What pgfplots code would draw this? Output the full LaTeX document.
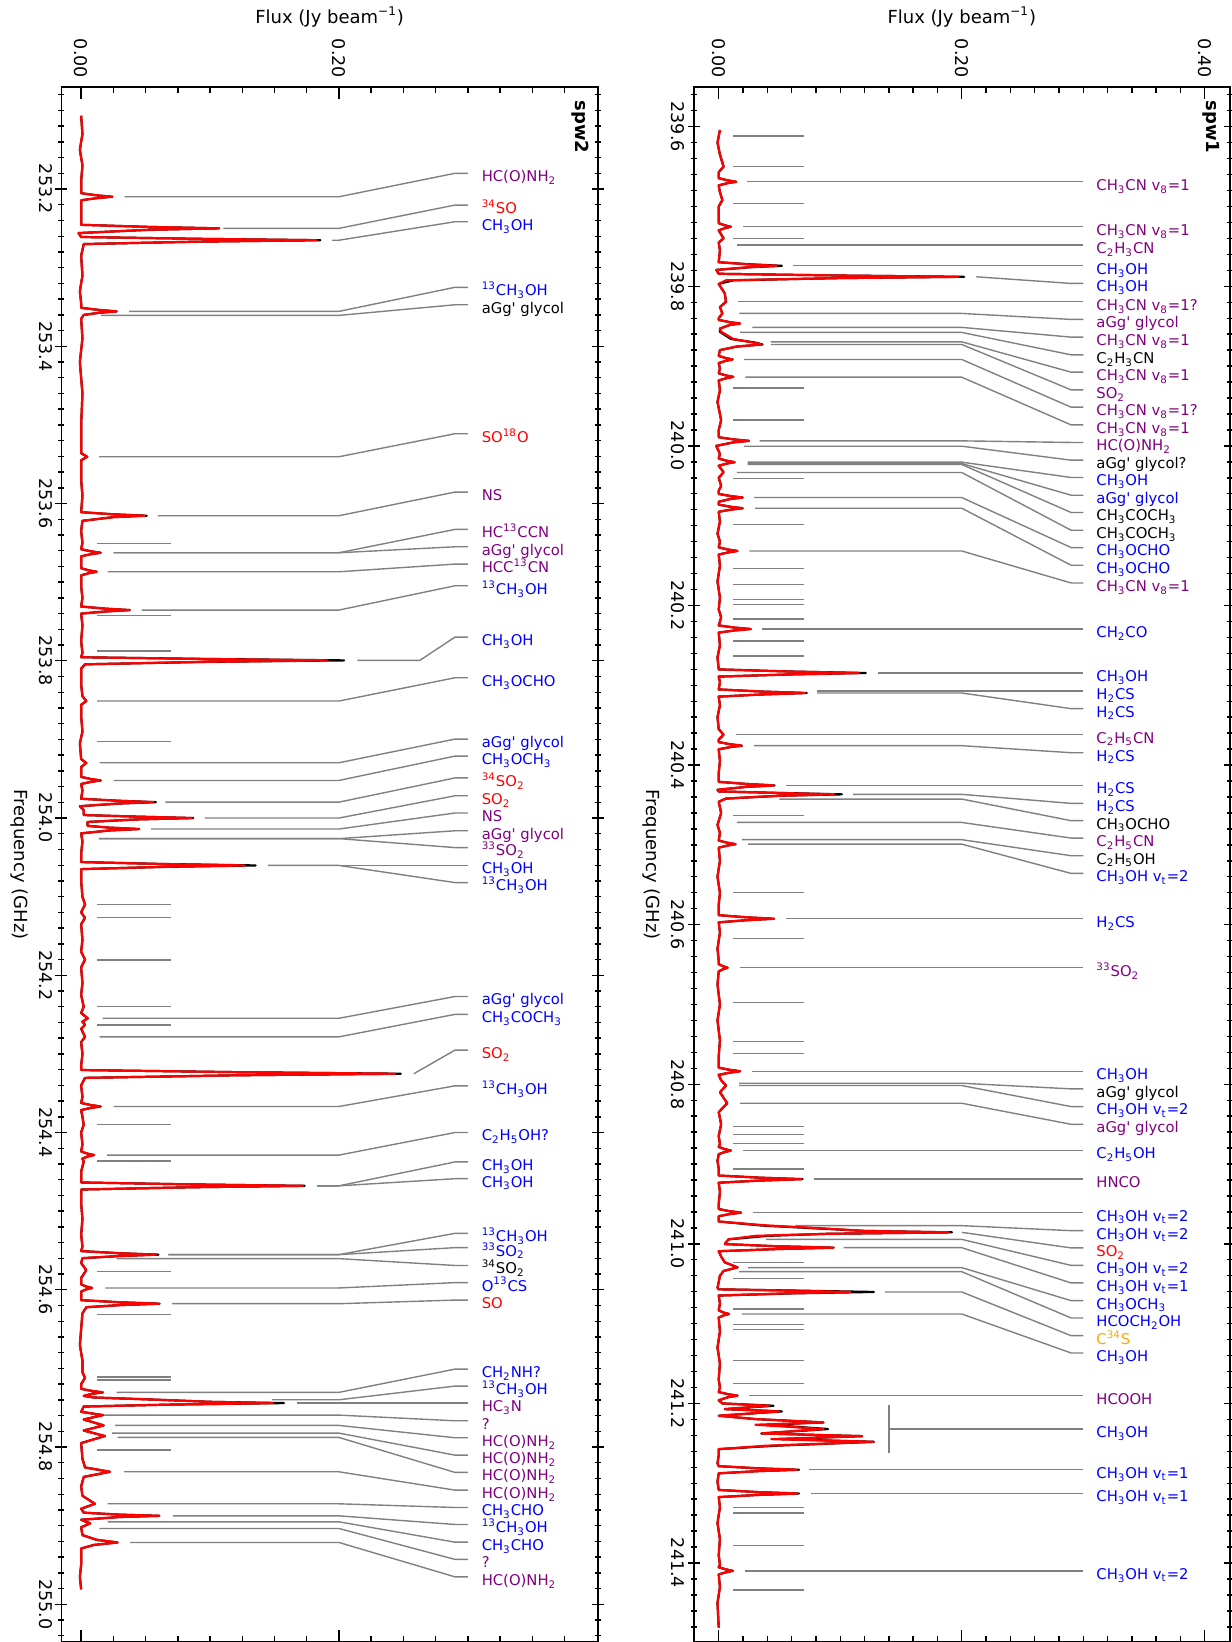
\documentclass[border=0pt]{standalone}
\usepackage{pgfplots}
\pgfplotsset{compat=1.18}
\usepackage{pgfplotstable}
\usepackage{fontspec}
\setmainfont{DejaVu Sans}[Ligatures=TeXOff]
\definecolor{mpurple}{HTML}{800080}
\definecolor{morange}{HTML}{FFA500}
\definecolor{mgray}{HTML}{808080}
\newcommand{\s}[1]{\textsubscript{#1}}
\newcommand{\su}[1]{\textsuperscript{#1}}
\newcommand{\Cn}[5]{\addplot[cl] coordinates {(#1,#2) (0.2,#2) (0.29,#3) (0.30,#3)};\node[lab,text=#5] at (axis cs:0.3105,#3) {#4};}
\newcommand{\Dn}[5]{\addplot[cl] coordinates {(#1,#2) (0.29,#3) (0.30,#3)};\node[lab,text=#5] at (axis cs:0.3105,#3) {#4};}
\newcommand{\Sh}[1]{\addplot[cl] coordinates {(0.012,#1) (0.07,#1)};}
\newcommand{\YL}[2]{\node[ytl] at (axis description cs:-0.029,#1) {#2};}

\pgfplotstableread{
nu r b
239.6041 0.001 0.001
239.6200 -0.001 -0.001
239.6350 0.001 0.001
239.6500 0.004 0.004
239.6570 0.000 0.000
239.6645 0.000 0.000
239.6672 0.0072 0.0072
239.6690 0.0144 0.0144
239.6708 0.0072 0.0072
239.6735 0.000 0.000
239.6820 0.001 0.001
239.6920 0.003 0.003
239.7000 0.000 0.000
239.7209 0.000 0.000
239.7236 0.005 0.005
239.7254 0.010 0.010
239.7272 0.005 0.005
239.7299 0.000 0.000
239.7400 0.004 0.004
239.7450 0.000 0.000
239.7550 0.001 0.001
239.7698 0.000 0.000
239.7725 0.024 0.026
239.7743 0.048 0.052
239.7761 0.024 0.026
239.7795 -0.002 -0.002
239.7843 0.000 0.000
239.7865 0.100 0.100
239.7881 0.197 0.202
239.7897 0.100 0.100
239.7925 0.006 0.012
239.7970 0.000 0.000
239.8090 0.005 0.005
239.8194 0.006 0.006
239.8260 0.001 0.001
239.8340 0.003 0.003
239.8400 0.000 0.000
239.8422 0.000 0.000
239.8449 0.009 0.009
239.8467 0.0176 0.0176
239.8485 0.009 0.009
239.8530 0.001 0.001
239.8570 0.002 0.001
239.8660 0.012 0.010
239.8705 0.028 0.030
239.8729 0.0353 0.036
239.8755 0.015 0.015
239.8800 0.001 0.001
239.8872 0.000 0.000
239.8899 0.0057 0.0057
239.8917 0.0114 0.0114
239.8935 0.0057 0.0057
239.8962 0.000 0.000
239.9030 0.001 0.001
239.9090 0.000 0.000
239.9117 0.006 0.006
239.9135 0.012 0.012
239.9153 0.006 0.006
239.9180 0.000 0.000
239.9300 0.001 0.001
239.9450 -0.001 -0.001
239.9600 0.001 0.001
239.9680 0.002 0.002
239.9800 0.000 0.000
239.9892 0.000 0.000
239.9919 0.0124 0.0124
239.9937 0.0248 0.0248
239.9955 0.0124 0.0124
240.0000 -0.002 -0.002
240.0100 0.001 0.001
240.0159 0.000 0.000
240.0186 0.0065 0.0065
240.0204 0.013 0.013
240.0222 0.0065 0.0065
240.0249 0.000 0.000
240.0330 0.004 0.004
240.0400 0.000 0.000
240.0500 0.002 0.002
240.0560 0.000 0.000
240.0602 0.000 0.000
240.0629 0.0098 0.0098
240.0647 0.0197 0.0197
240.0665 0.0098 0.0098
240.0700 0.000 0.000
240.0736 0.000 0.000
240.0763 0.0098 0.0098
240.0781 0.0197 0.0197
240.0799 0.0098 0.0098
240.0826 0.000 0.000
240.0950 0.001 0.001
240.1100 -0.001 -0.001
240.1200 0.001 0.001
240.1272 0.000 0.000
240.1299 0.0077 0.0077
240.1317 0.0154 0.0154
240.1335 0.0077 0.0077
240.1362 0.000 0.000
240.1500 0.001 0.001
240.1700 -0.001 -0.001
240.1900 0.001 0.001
240.2050 0.000 0.000
240.2150 0.002 0.002
240.2250 0.000 0.000
240.2277 0.013 0.013
240.2295 0.0263 0.0263
240.2313 0.013 0.013
240.2340 0.000 0.000
240.2500 0.001 0.001
240.2650 -0.001 -0.001
240.2801 0.000 0.000
240.2828 0.058 0.060
240.2846 0.1153 0.121
240.2864 0.058 0.060
240.2891 0.000 0.000
240.2960 0.001 0.001
240.3052 0.000 0.000
240.3079 0.036 0.036
240.3097 0.0713 0.0725
240.3115 0.036 0.036
240.3142 0.000 0.000
240.3250 0.001 0.001
240.3400 -0.001 -0.001
240.3550 0.000 0.000
240.3619 0.004 0.004
240.3680 0.000 0.000
240.3712 0.000 0.000
240.3739 0.0095 0.0095
240.3757 0.0191 0.0191
240.3775 0.0095 0.0095
240.3802 0.000 0.000
240.3950 0.001 0.001
240.4100 0.000 0.000
240.4210 0.000 0.000
240.4237 0.023 0.023
240.4255 0.0455 0.046
240.4273 0.023 0.023
240.4310 -0.001 -0.001
240.4330 0.000 0.000
240.4349 0.048 0.050
240.4367 0.0951 0.1014
240.4385 0.048 0.050
240.4420 0.006 0.006
240.4460 0.000 0.000
240.4600 0.002 0.002
240.4750 -0.001 -0.001
240.4850 0.001 0.001
240.4946 0.000 0.000
240.4973 0.007 0.007
240.4991 0.0139 0.0139
240.5009 0.007 0.007
240.5036 0.000 0.000
240.5200 0.001 0.001
240.5400 -0.001 -0.001
240.5600 0.001 0.001
240.5750 0.000 0.000
240.5881 0.000 0.000
240.5908 0.023 0.023
240.5926 0.0455 0.0455
240.5944 0.023 0.023
240.5971 0.000 0.000
240.6100 0.001 0.001
240.6300 -0.001 -0.001
240.6450 0.000 0.000
240.6495 0.000 0.000
240.6522 0.0037 0.0037
240.6540 0.0073 0.0073
240.6558 0.0037 0.0037
240.6585 0.000 0.000
240.6750 -0.001 -0.001
240.7000 0.001 0.001
240.7200 -0.001 -0.001
240.7450 0.001 0.001
240.7650 0.000 0.000
240.7792 0.000 0.000
240.7819 0.009 0.009
240.7837 0.0176 0.0176
240.7855 0.009 0.009
240.7882 0.000 0.000
240.7950 0.002 0.002
240.8016 0.006 0.006
240.8100 0.001 0.001
240.8238 0.007 0.007
240.8350 0.000 0.000
240.8500 0.002 0.002
240.8650 0.000 0.000
240.8750 0.001 0.001
240.8786 0.000 0.000
240.8813 0.005 0.005
240.8831 0.010 0.010
240.8849 0.005 0.005
240.8876 0.000 0.000
240.8960 -0.001 -0.001
240.9060 0.000 0.000
240.9144 0.000 0.000
240.9171 0.034 0.034
240.9189 0.068 0.069
240.9207 0.034 0.034
240.9234 0.000 0.000
240.9350 0.001 0.001
240.9500 0.000 0.000
240.9564 0.000 0.000
240.9591 0.009 0.009
240.9609 0.0184 0.0184
240.9627 0.009 0.009
240.9654 0.000 0.000
240.9720 0.000 0.000
240.9770 0.040 0.035
240.9810 0.090 0.085
240.9838 0.120 0.120
240.9856 0.189 0.192
240.9874 0.090 0.090
240.9900 0.030 0.040
240.9944 0.008 0.008
241.0003 0.005 0.005
241.0030 0.047 0.047
241.0048 0.0946 0.0946
241.0066 0.047 0.047
241.0093 0.000 0.000
241.0160 0.002 0.002
241.0232 0.005 0.005
241.0295 0.0155 0.0155
241.0340 0.004 0.004
241.0400 0.001 0.001
241.0480 0.000 0.000
241.0550 -0.001 -0.001
241.0570 0.000 0.000
241.0585 0.055 0.060
241.0603 0.1085 0.1277
241.0621 0.055 0.060
241.0648 0.000 0.000
241.0750 0.001 0.001
241.0834 0.000 0.000
241.0861 0.004 0.004
241.0879 0.0084 0.0084
241.0897 0.004 0.004
241.0924 0.000 0.000
241.1100 0.001 0.001
241.1300 -0.001 -0.001
241.1500 0.001 0.001
241.1700 0.000 0.000
241.1800 0.001 0.001
241.1858 0.000 0.000
241.1885 0.008 0.008
241.1903 0.0155 0.0155
241.1921 0.008 0.008
241.1960 0.000 0.000
241.2000 0.003 0.003
241.2029 0.0414 0.045
241.2071 0.005 0.005
241.2100 0.0498 0.052
241.2154 0.000 0.000
241.2196 0.030 0.030
241.2238 0.0862 0.086
241.2267 0.0303 0.040
241.2321 0.0862 0.090
241.2376 0.035 0.035
241.2410 0.118 0.118
241.2447 0.0432 0.050
241.2481 0.1277 0.1277
241.2531 0.038 0.045
241.2573 0.000 0.000
241.2650 0.000 0.000
241.2750 -0.001 -0.001
241.2786 0.000 0.000
241.2813 0.032 0.032
241.2831 0.0647 0.066
241.2849 0.032 0.032
241.2876 0.000 0.000
241.2980 -0.001 -0.001
241.3084 0.000 0.000
241.3111 0.032 0.032
241.3129 0.065 0.066
241.3147 0.032 0.032
241.3174 0.000 0.000
241.3300 0.001 0.001
241.3500 -0.001 -0.001
241.3700 0.001 0.001
241.3900 0.000 0.000
241.4020 0.001 0.001
241.4053 0.000 0.000
241.4080 0.006 0.006
241.4098 0.0116 0.0116
241.4116 0.006 0.006
241.4143 0.000 0.000
241.4300 0.001 0.001
241.4500 -0.001 -0.001
241.4809 0.000 0.000
}\specR

\pgfplotstableread{
nu r b
253.1068 0.000 0.000
253.1300 0.001 0.001
253.1500 -0.001 -0.001
253.1700 0.001 0.001
253.1900 0.000 0.000
253.2053 0.000 0.000
253.2080 0.012 0.012
253.2098 0.0242 0.0242
253.2116 0.012 0.012
253.2143 0.000 0.000
253.2300 0.000 0.000
253.2455 0.000 0.000
253.2482 0.053 0.053
253.2500 0.107 0.107
253.2518 0.053 0.053
253.2560 -0.002 -0.002
253.2610 0.000 0.000
253.2633 0.091 0.091
253.2651 0.1828 0.1856
253.2669 0.091 0.091
253.2700 0.002 0.002
253.2850 0.000 0.000
253.3100 0.001 0.001
253.3300 -0.001 -0.001
253.3450 0.000 0.000
253.3511 0.000 0.000
253.3538 0.014 0.014
253.3556 0.0275 0.0275
253.3574 0.014 0.014
253.3601 0.002 0.002
253.3650 0.000 0.000
253.3900 0.001 0.001
253.4200 -0.001 -0.001
253.4600 0.001 0.001
253.5000 0.000 0.000
253.5360 0.000 0.000
253.5405 0.0047 0.0047
253.5450 0.000 0.000
253.5700 0.000 0.000
253.5900 0.001 0.001
253.6110 0.000 0.000
253.6137 0.025 0.025
253.6155 0.0494 0.0509
253.6173 0.025 0.025
253.6220 0.001 0.001
253.6350 0.000 0.000
253.6500 0.001 0.001
253.6581 0.000 0.000
253.6608 0.0076 0.0076
253.6626 0.0152 0.0152
253.6644 0.0076 0.0076
253.6671 0.000 0.000
253.6823 0.000 0.000
253.6850 0.006 0.006
253.6868 0.012 0.012
253.6886 0.006 0.006
253.6913 0.000 0.000
253.7050 0.000 0.000
253.7200 0.001 0.001
253.7310 0.000 0.000
253.7337 0.019 0.019
253.7355 0.0377 0.0377
253.7373 0.019 0.019
253.7400 0.000 0.000
253.7550 0.001 0.001
253.7750 0.000 0.000
253.7900 0.001 0.001
253.7955 0.000 0.000
253.7977 0.095 0.100
253.7995 0.191 0.204
253.8013 0.095 0.100
253.8045 0.003 0.003
253.8100 0.000 0.000
253.8300 0.000 0.000
253.8450 0.001 0.001
253.8512 0.004 0.004
253.8560 0.000 0.000
253.8700 0.000 0.000
253.8900 0.001 0.001
253.9050 -0.001 -0.001
253.9250 0.000 0.000
253.9300 0.004 0.004
253.9350 0.000 0.000
253.9477 0.000 0.000
253.9504 0.0076 0.0076
253.9522 0.0152 0.0152
253.9540 0.0076 0.0076
253.9567 0.000 0.000
253.9650 0.001 0.001
253.9755 0.000 0.000
253.9780 0.028 0.029
253.9798 0.0561 0.058
253.9816 0.028 0.029
253.9850 -0.001 -0.001
253.9900 0.002 0.002
253.9962 0.002 0.002
253.9982 0.043 0.043
254.0000 0.0859 0.087
254.0018 0.043 0.043
254.0050 0.005 0.005
254.0100 0.005 0.005
254.0122 0.022 0.022
254.0140 0.045 0.045
254.0158 0.022 0.022
254.0195 0.000 0.000
254.0300 0.001 0.001
254.0450 0.000 0.000
254.0560 0.000 0.000
254.0585 0.063 0.065
254.0603 0.1267 0.1354
254.0621 0.063 0.065
254.0650 0.000 0.000
254.0800 0.000 0.000
254.1000 0.001 0.001
254.1100 0.003 0.003
254.1200 0.000 0.000
254.1270 0.003 0.003
254.1350 0.000 0.000
254.1550 0.001 0.001
254.1700 0.000 0.000
254.1800 0.003 0.003
254.1900 0.000 0.000
254.2100 0.001 0.001
254.2250 0.000 0.000
254.2400 0.002 0.002
254.2480 0.000 0.000
254.2547 0.0051 0.0051
254.2590 0.001 0.001
254.2630 0.003 0.003
254.2680 0.000 0.000
254.2783 0.003 0.003
254.2850 0.000 0.000
254.3000 0.001 0.001
254.3150 0.000 0.000
254.3205 0.000 0.000
254.3232 0.120 0.120
254.3252 0.2434 0.2479
254.3272 0.120 0.120
254.3305 0.003 0.003
254.3400 0.000 0.000
254.3550 0.001 0.001
254.3624 0.000 0.000
254.3651 0.0076 0.0076
254.3669 0.0152 0.0152
254.3687 0.0076 0.0076
254.3714 0.000 0.000
254.3800 0.001 0.001
254.3900 0.002 0.002
254.4000 0.000 0.000
254.4150 0.001 0.001
254.4242 0.000 0.000
254.4269 0.005 0.005
254.4287 0.010 0.010
254.4305 0.005 0.005
254.4332 0.001 0.001
254.4370 0.002 0.002
254.4500 0.000 0.000
254.4635 0.000 0.000
254.4660 0.086 0.086
254.4678 0.172 0.1734
254.4696 0.086 0.086
254.4725 0.000 0.000
254.4900 0.000 0.000
254.5100 0.001 0.001
254.5300 0.000 0.000
254.5450 0.001 0.001
254.5508 0.000 0.000
254.5535 0.029 0.030
254.5553 0.0579 0.060
254.5571 0.029 0.030
254.5598 0.001 0.001
254.5660 0.000 0.000
254.5750 0.004 0.004
254.5850 0.000 0.000
254.5932 0.000 0.000
254.5959 0.004 0.004
254.5977 0.0085 0.0085
254.5995 0.004 0.004
254.6022 0.000 0.000
254.6090 0.000 0.000
254.6132 0.000 0.000
254.6159 0.030 0.030
254.6177 0.0608 0.0608
254.6195 0.030 0.030
254.6222 0.004 0.004
254.6300 0.001 0.001
254.6500 0.000 0.000
254.6700 -0.001 -0.001
254.6900 0.001 0.001
254.7050 0.001 0.001
254.7120 0.003 0.003
254.7200 0.000 0.000
254.7260 0.000 0.000
254.7287 0.0085 0.0085
254.7305 0.0169 0.0169
254.7323 0.0085 0.0085
254.7350 0.002 0.002
254.7370 0.010 0.010
254.7399 0.060 0.060
254.7425 0.100 0.100
254.7441 0.1487 0.1573
254.7460 0.070 0.070
254.7485 0.002 0.002
254.7552 0.000 0.000
254.7594 0.0168 0.0168
254.7650 0.002 0.002
254.7725 0.0175 0.0175
254.7790 0.002 0.002
254.7860 0.0184 0.0184
254.7950 0.000 0.000
254.8150 0.001 0.001
254.8260 0.003 0.003
254.8315 0.0224 0.0224
254.8380 0.002 0.002
254.8500 0.000 0.000
254.8620 0.001 0.001
254.8722 0.0107 0.0107
254.8785 0.000 0.000
254.8835 0.002 0.002
254.8860 0.030 0.030
254.8875 0.0607 0.0607
254.8890 0.030 0.030
254.8925 0.000 0.000
254.8972 0.007 0.007
254.9020 0.000 0.000
254.9120 0.001 0.001
254.9180 0.012 0.012
254.9214 0.0282 0.0282
254.9245 0.010 0.010
254.9290 0.000 0.000
254.9500 0.000 0.000
254.9650 -0.001 -0.001
254.9810 0.000 0.000
}\specL

\tikzset{
  cl/.style={mgray, line width=0.7pt, line join=round},
  lab/.style={anchor=base west, inner sep=0pt, yshift=-4.2pt, font=\fontsize{7.4}{9}\selectfont},
  axlab/.style={inner sep=0pt, anchor=center, font=\fontsize{9}{11}\selectfont},
  ytl/.style={inner sep=0pt, anchor=center, rotate=-90, font=\fontsize{8.75}{10}\selectfont},
  spw/.style={rotate=-90, anchor=north west, inner sep=0pt, font=\fontsize{9}{11}\selectfont\bfseries},
}
\pgfplotsset{
  base/.style={
    scale only axis, y dir=reverse,
    axis line style={line width=0.8pt},
    xtick align=inside, ytick align=center,
    major tick length=6pt, minor tick length=3pt,
    tick style={line width=0.7pt, black},
    xticklabel pos=right,
    yticklabels={},
    tick label style={font=\fontsize{8.75}{10}\selectfont},
    xticklabel style={yshift=4.5pt, rotate=-90, anchor=east, inner sep=0pt},
  }
}

\begin{document}
\begin{tikzpicture}
% ---------------- spw2 (left) ----------------
\begin{axis}[base, at={(30.65pt,0pt)}, anchor=south west, width=268.3pt, height=777.35pt,
  xmin=-0.0154, xmax=0.4009, ymin=253.0706, ymax=255.048,
  xtick={0,0.2}, xticklabels={0.00,0.20}, minor xtick={0.025,0.05,...,0.375},
  ytick={253.2,253.4,253.6,253.8,254.0,254.2,254.4,254.6,254.8,255.0},
  minor ytick={253.08,253.10,...,255.04},
  extra description/.code={
    \node[axlab] at (axis description cs:0.5,1.0454) {Flux (Jy beam\su{−1})};
    \node[axlab,rotate=-90] at (axis description cs:-0.0775,0.5) {Frequency (GHz)};
    \node[spw] at (axis description cs:0.9838,0.9918) {spw2};
    \YL{0.93456}{253.2}\YL{0.83342}{253.4}\YL{0.73227}{253.6}\YL{0.63113}{253.8}
    \YL{0.52998}{254.0}\YL{0.42884}{254.2}\YL{0.32770}{254.4}\YL{0.22656}{254.6}
    \YL{0.12542}{254.8}\YL{0.02427}{255.0}
  }]
\Sh{253.6512}\Sh{253.7427}\Sh{253.7876}\Sh{253.9030}\Sh{254.1098}\Sh{254.1266}
\Sh{254.1807}\Sh{254.2397}\Sh{254.2633}\Sh{254.3897}\Sh{254.4364}\Sh{254.5764}
\Sh{254.6313}\Sh{254.7107}\Sh{254.7149}\Sh{254.8039}
\Cn{0.0337}{253.2098}{253.1800}{HC(O)NH\s2}{mpurple}
\Cn{0.1104}{253.2500}{253.2204}{\su{34}SO}{red}
\Cn{0.1948}{253.2651}{253.2416}{CH\s3OH}{blue}
\Cn{0.0372}{253.3556}{253.3250}{\su{13}CH\s3OH}{blue}
\Cn{0.0154}{253.3607}{253.3472}{aGg' glycol}{black}
\Cn{0.0137}{253.5405}{253.5112}{SO\su{18}O}{red}
\Cn{0.0596}{253.6155}{253.5854}{NS}{mpurple}
\Cn{0.0251}{253.6626}{253.6329}{HC\su{13}CCN}{mpurple}
\Cn{0.0251}{253.6626}{253.6550}{aGg' glycol}{mpurple}
\Cn{0.0205}{253.6868}{253.6770}{HCC\su{13}CN}{mpurple}
\Cn{0.0472}{253.7355}{253.7046}{\su{13}CH\s3OH}{blue}
\addplot[cl] coordinates {(0.2143,253.7995) (0.2627,253.7995) (0.29,253.7699) (0.30,253.7699)};
\node[lab,text=blue] at (axis cs:0.3105,253.7699) {CH\s3OH};
\Cn{0.0123}{253.8512}{253.8216}{CH\s3OCHO}{blue}
\Cn{0.0144}{253.9297}{253.8996}{aGg' glycol}{blue}
\Cn{0.0251}{253.9522}{253.9212}{CH\s3OCH\s3}{blue}
\Cn{0.0654}{253.9798}{253.9490}{\su{34}SO\s2}{red}
\Cn{0.0957}{254.0000}{253.9717}{SO\s2}{red}
\Cn{0.0543}{254.0140}{253.9936}{NS}{mpurple}
\Cn{0.0138}{254.0262}{254.0162}{aGg' glycol}{mpurple}
\Cn{0.0138}{254.0262}{254.0376}{\su{33}SO\s2}{mpurple}
\Cn{0.1448}{254.0603}{254.0603}{CH\s3OH}{blue}
\Cn{0.1448}{254.0603}{254.0821}{\su{13}CH\s3OH}{blue}
\Cn{0.0166}{254.2547}{254.2270}{aGg' glycol}{blue}
\Cn{0.0144}{254.2783}{254.2497}{CH\s3COCH\s3}{blue}
\Dn{0.2581}{254.3252}{254.2952}{SO\s2}{red}
\Cn{0.0251}{254.3669}{254.3406}{\su{13}CH\s3OH}{blue}
\Cn{0.0202}{254.4287}{254.4000}{C\s2H\s5OH?}{blue}
\Cn{0.1831}{254.4678}{254.4374}{CH\s3OH}{blue}
\Cn{0.1831}{254.4678}{254.4587}{CH\s3OH}{blue}
\Cn{0.0676}{254.5553}{254.5282}{\su{13}CH\s3OH}{blue}
\Cn{0.0676}{254.5553}{254.5464}{\su{33}SO\s2}{blue}
\Cn{0.0275}{254.5604}{254.5691}{\su{34}SO\s2}{black}
\Cn{0.0187}{254.5977}{254.5909}{O\su{13}CS}{blue}
\Cn{0.0706}{254.6177}{254.6131}{SO}{red}
\Cn{0.0276}{254.7305}{254.7009}{CH\s2NH?}{blue}
\Cn{0.148}{254.7399}{254.7225}{\su{13}CH\s3OH}{blue}
\Cn{0.1672}{254.7441}{254.7441}{HC\s3N}{mpurple}
\Cn{0.0168}{254.7594}{254.7666}{?}{mpurple}
\Cn{0.0263}{254.7725}{254.7882}{HC(O)NH\s2}{mpurple}
\Cn{0.0239}{254.7823}{254.8103}{HC(O)NH\s2}{mpurple}
\Cn{0.0282}{254.7878}{254.8323}{HC(O)NH\s2}{mpurple}
\Cn{0.0332}{254.8315}{254.8548}{HC(O)NH\s2}{mpurple}
\Cn{0.0205}{254.8722}{254.8769}{CH\s3CHO}{blue}
\Cn{0.0711}{254.8875}{254.8985}{\su{13}CH\s3OH}{blue}
\Cn{0.0205}{254.8951}{254.9210}{CH\s3CHO}{blue}
\Cn{0.0141}{254.9036}{254.9429}{?}{mpurple}
\Cn{0.0379}{254.9214}{254.9651}{HC(O)NH\s2}{mpurple}
\addplot[black, line width=1.1pt, line join=round] table[x=b, y=nu] {\specL};
\addplot[red, line width=1.1pt, line join=round] table[x=r, y=nu] {\specL};
\end{axis}

% ---------------- spw1 (right) ----------------
\begin{axis}[base, at={(346.9pt,0pt)}, anchor=south west, width=268pt, height=777.35pt,
  xmin=-0.0205, xmax=0.4206, ymin=239.5506, ymax=241.499,
  xtick={0,0.2,0.4}, xticklabels={0.00,0.20,0.40}, minor xtick={0.02,0.04,...,0.38},
  ytick={239.6,239.8,240.0,240.2,240.4,240.6,240.8,241.0,241.2,241.4},
  minor ytick={239.56,239.58,...,241.48},
  extra description/.code={
    \node[axlab] at (axis description cs:0.5,1.0454) {Flux (Jy beam\su{−1})};
    \node[axlab,rotate=-90] at (axis description cs:-0.079,0.5) {Frequency (GHz)};
    \node[spw] at (axis description cs:0.9817,0.9918) {spw1};
    \YL{0.97465}{239.6}\YL{0.87200}{239.8}\YL{0.76935}{240.0}\YL{0.66670}{240.2}
    \YL{0.56405}{240.4}\YL{0.46140}{240.6}\YL{0.35876}{240.8}\YL{0.25611}{241.0}
    \YL{0.15346}{241.2}\YL{0.05081}{241.4}
  }]
\Sh{239.6117}\Sh{239.6502}\Sh{239.6961}\Sh{239.7402}\Sh{239.9273}\Sh{239.9678}
\Sh{240.0409}\Sh{240.0986}\Sh{240.1534}\Sh{240.1738}\Sh{240.1926}\Sh{240.1989}
\Sh{240.2169}\Sh{240.2445}\Sh{240.2633}\Sh{240.4634}\Sh{240.5596}\Sh{240.6173}
\Sh{240.6972}\Sh{240.7465}\Sh{240.7611}\Sh{240.8530}\Sh{240.8627}\Sh{240.8740}
\Sh{240.9061}\Sh{241.0232}\Sh{241.0433}\Sh{241.0816}\Sh{241.1013}\Sh{241.1076}
\Sh{241.1465}\Sh{241.1753}\Sh{241.3304}\Sh{241.3374}\Sh{241.3784}\Sh{241.4340}
\Cn{0.0232}{239.6690}{239.6690}{CH\s3CN v\s8=1}{mpurple}
\Cn{0.020}{239.7254}{239.7254}{CH\s3CN v\s8=1}{mpurple}
\Cn{0.0149}{239.7480}{239.7480}{C\s2H\s3CN}{mpurple}
\Cn{0.0613}{239.7743}{239.7743}{CH\s3OH}{blue}
\Dn{0.212}{239.7881}{239.7964}{CH\s3OH}{blue}
\Cn{0.016}{239.8194}{239.8194}{CH\s3CN v\s8=1?}{mpurple}
\Cn{0.017}{239.8340}{239.8415}{aGg' glycol}{mpurple}
\Cn{0.0276}{239.8515}{239.8637}{CH\s3CN v\s8=1}{mpurple}
\Cn{0.0177}{239.8578}{239.8859}{C\s2H\s3CN}{black}
\Cn{0.043}{239.8696}{239.9076}{CH\s3CN v\s8=1}{mpurple}
\Cn{0.043}{239.8729}{239.9298}{SO\s2}{mpurple}
\Cn{0.0207}{239.8917}{239.9515}{CH\s3CN v\s8=1?}{mpurple}
\Cn{0.022}{239.9139}{239.9737}{CH\s3CN v\s8=1}{mpurple}
\Cn{0.0337}{239.9937}{239.9957}{HC(O)NH\s2}{mpurple}
\Cn{0.0207}{240.0004}{240.0179}{aGg' glycol?}{black}
\Cn{0.0238}{240.0204}{240.0396}{CH\s3OH}{blue}
\Cn{0.0238}{240.0221}{240.0618}{aGg' glycol}{blue}
\Cn{0.0238}{240.0233}{240.0835}{CH\s3COCH\s3}{black}
\Cn{0.015}{240.0334}{240.1057}{CH\s3COCH\s3}{black}
\Cn{0.029}{240.0647}{240.1274}{CH\s3OCHO}{blue}
\Cn{0.0298}{240.0781}{240.1496}{CH\s3OCHO}{blue}
\Cn{0.0253}{240.1317}{240.1718}{CH\s3CN v\s8=1}{mpurple}
\Cn{0.036}{240.2295}{240.2295}{CH\s2CO}{blue}
\Cn{0.131}{240.2846}{240.2846}{CH\s3OH}{blue}
\Cn{0.081}{240.3072}{240.3072}{H\s2CS}{blue}
\Cn{0.081}{240.3097}{240.3293}{H\s2CS}{blue}
\Cn{0.0144}{240.3619}{240.3619}{C\s2H\s5CN}{mpurple}
\Cn{0.029}{240.3757}{240.3845}{H\s2CS}{blue}
\Cn{0.0555}{240.4255}{240.4255}{H\s2CS}{blue}
\Cn{0.1106}{240.4367}{240.4480}{H\s2CS}{blue}
\Cn{0.050}{240.4426}{240.4697}{CH\s3OCHO}{black}
\Cn{0.015}{240.4719}{240.4915}{C\s2H\s5CN}{mpurple}
\Cn{0.019}{240.4935}{240.5136}{C\s2H\s5OH}{black}
\Cn{0.0243}{240.4991}{240.5358}{CH\s3OH v\s{t}=2}{blue}
\Cn{0.0555}{240.5926}{240.5926}{H\s2CS}{blue}
\Cn{0.0177}{240.6540}{240.6540}{\su{33}SO\s2}{mpurple}
\Cn{0.0276}{240.7837}{240.7837}{CH\s3OH}{blue}
\Cn{0.0168}{240.7987}{240.8058}{aGg' glycol}{black}
\Cn{0.0168}{240.8016}{240.8280}{CH\s3OH v\s{t}=2}{blue}
\Cn{0.0177}{240.8238}{240.8502}{aGg' glycol}{mpurple}
\Cn{0.0203}{240.8831}{240.8831}{C\s2H\s5OH}{blue}
\Cn{0.078}{240.9189}{240.9189}{HNCO}{mpurple}
\Cn{0.0284}{240.9609}{240.9609}{CH\s3OH v\s{t}=2}{blue}
\Cn{0.063}{240.9772}{240.9835}{CH\s3OH v\s{t}=2}{blue}
\Cn{0.1999}{240.9856}{241.0051}{SO\s2}{red}
\Cn{0.039}{240.9944}{241.0270}{CH\s3OH v\s{t}=2}{blue}
\Cn{0.1027}{241.0048}{241.0490}{CH\s3OH v\s{t}=1}{blue}
\Cn{0.0243}{241.0298}{241.0712}{CH\s3OCH\s3}{blue}
\Cn{0.0167}{241.0349}{241.0929}{HCOCH\s2OH}{blue}
\Cn{0.137}{241.0603}{241.1151}{C\su{34}S}{morange}
\Cn{0.019}{241.0879}{241.1368}{CH\s3OH}{blue}
\Cn{0.025}{241.1903}{241.1903}{HCOOH}{mpurple}
\addplot[cl] coordinates {(0.140,241.2016) (0.140,241.2627)};
\addplot[cl] coordinates {(0.140,241.2321) (0.30,241.2321)};
\node[lab,text=blue] at (axis cs:0.3105,241.2321) {CH\s3OH};
\Cn{0.0747}{241.2831}{241.2831}{CH\s3OH v\s{t}=1}{blue}
\Cn{0.076}{241.3129}{241.3129}{CH\s3OH v\s{t}=1}{blue}
\Cn{0.0217}{241.4098}{241.4098}{CH\s3OH v\s{t}=2}{blue}
\addplot[black, line width=1.1pt, line join=round] table[x=b, y=nu] {\specR};
\addplot[red, line width=1.1pt, line join=round] table[x=r, y=nu] {\specR};
\end{axis}
\pgfresetboundingbox
\path (0pt,0pt) rectangle (615.5pt,821pt);
\end{tikzpicture}
\end{document}
